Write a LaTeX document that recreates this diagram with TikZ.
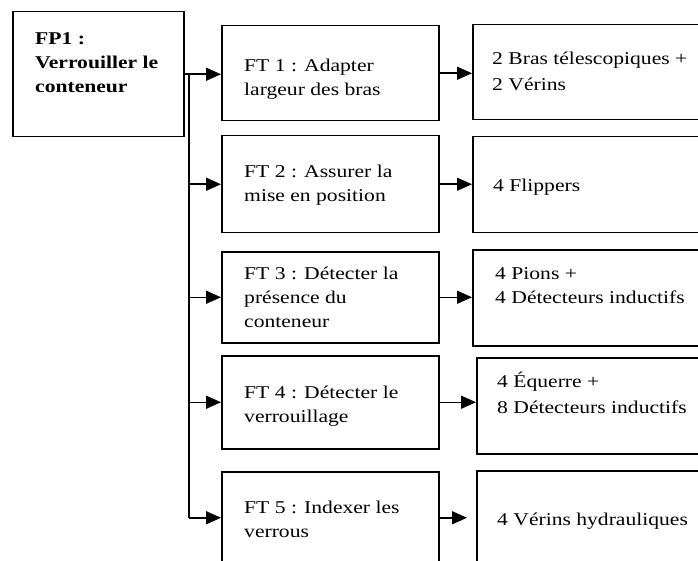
\documentclass[tikz,border=0pt]{standalone}
\usepackage{fontspec}
\setmainfont{Liberation Serif}[FakeStretch=1.2]
\usetikzlibrary{arrows.meta}

\begin{document}
\begin{tikzpicture}[x=1pt,y=-1pt,
  cadre/.style={draw=black, line width=1.5pt, inner sep=0pt, anchor=north west},
  texte/.style={anchor=base west, align=left, inner sep=0pt, font=\fontsize{18}{24}\selectfont},
  fleche/.style={line width=1.5pt, -{Triangle[length=15pt,width=13pt]}}]
\useasboundingbox (0,0) rectangle (698,561);
\clip (0,0) rectangle (698,561);
\fill[white] (0,0) rectangle (698,561);

% fonction principale
\node[cadre, minimum width=171pt, minimum height=125pt] (fp1) at (12,11) {};
\node[texte, font=\fontsize{18}{24}\selectfont\bfseries] (fp1t) at (35,93) {FP1 :\\Verrouiller le\\conteneur};

% fonctions techniques
\node[cadre, minimum width=217pt, minimum height=95pt] (ft1) at (221,25) {};
\node[cadre, minimum width=217pt, minimum height=97pt] (ft2) at (221,135) {};
\node[cadre, minimum width=217pt, minimum height=91pt] (ft3) at (221,251) {};
\node[cadre, minimum width=217pt, minimum height=93pt] (ft4) at (221,355) {};
\node[cadre, minimum width=217pt, minimum height=92pt] (ft5) at (221,471) {};
\node[texte] (ft1t) at (244,96) {FT 1 : Adapter\\largeur des bras};
\node[texte] (ft2t) at (244,202) {FT 2 : Assurer la\\mise en position};
\node[texte] (ft3t) at (244,327) {FT 3 : Détecter la\\présence du\\conteneur};
\node[texte] (ft4t) at (244,422) {FT 4 : Détecter le\\verrouillage};
\node[texte] (ft5t) at (244,537) {FT 5 : Indexer les\\verrous};

% solutions
\node[cadre, minimum width=260pt, minimum height=95pt] (r1) at (472,24) {};
\node[cadre, minimum width=260pt, minimum height=96pt] (r2) at (472,136) {};
\node[cadre, minimum width=260pt, minimum height=96pt] (r3) at (472,249) {};
\node[cadre, minimum width=260pt, minimum height=96pt] (r4) at (476,357) {};
\node[cadre, minimum width=260pt, minimum height=100pt] (r5) at (476,470) {};
\node[texte] (r1t) at (492,91) {2 Bras télescopiques +\\[2pt]2 Vérins};
\node[texte] (r2t) at (493,192) {4 Flippers};
\node[texte] (r3t) at (495,303) {4 Pions +\\4 Détecteurs inductifs};
\node[texte] (r4t) at (497,413) {4 Équerre +\\[2pt]8 Détecteurs inductifs};
\node[texte] (r5t) at (497,525) {4 Vérins hydrauliques};

% liaisons
\coordinate (spine) at (189,0);
\draw[line width=1.5pt] (fp1.east -| spine) -- (ft5.west -| spine);
\draw[fleche] (fp1.east) -- (fp1.east -| ft1.west);
\foreach \n in {2,...,5}
  \draw[fleche] (ft\n.west -| spine) -- (ft\n.west);
\foreach \n in {1,...,4}
  \draw[fleche] (ft\n.east) -- (ft\n.east -| r\n.west);
\draw[fleche, shorten >=9pt] (ft5.east) -- (ft5.east -| r5.west);
\end{tikzpicture}
\end{document}
